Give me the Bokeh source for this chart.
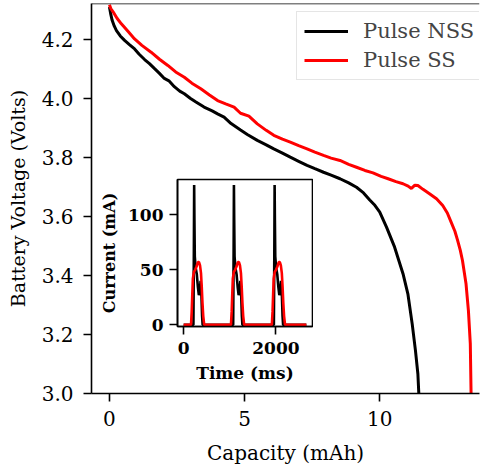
from bokeh.plotting import figure
from bokeh.models import Range1d, FixedTicker, PrintfTickFormatter, Span, Legend, LegendItem
from bokeh.layouts import column
from bokeh.embed import file_html
from bokeh.resources import INLINE

# ---- main data: capacity (mAh) vs battery voltage (V) ----
nss_cap = [0.00, 0.05, 0.10, 0.18, 0.26, 0.40, 0.56, 0.75, 0.93, 1.10, 1.30, 1.48, 1.67, 1.85,
           2.03, 2.20, 2.40, 2.60, 2.77, 3.00, 3.20, 3.50, 3.80, 4.00, 4.24, 4.50, 4.85, 5.10,
           5.47, 5.80, 6.08, 6.40, 6.69, 7.00, 7.31, 7.60, 7.92, 8.20, 8.53, 8.85, 9.14, 9.40,
           9.63, 9.80, 10.00, 10.25, 10.55, 10.86, 11.04, 11.20, 11.32, 11.41, 11.45]
nss_volt = [4.310, 4.285, 4.265, 4.245, 4.230, 4.212, 4.197, 4.182, 4.168, 4.150, 4.132, 4.118,
            4.101, 4.085, 4.068, 4.060, 4.040, 4.025, 4.016, 4.000, 3.988, 3.971, 3.958, 3.948,
            3.937, 3.915, 3.893, 3.878, 3.858, 3.843, 3.829, 3.815, 3.801, 3.787, 3.773, 3.762,
            3.750, 3.740, 3.728, 3.714, 3.699, 3.680, 3.656, 3.640, 3.615, 3.564, 3.496, 3.406,
            3.338, 3.236, 3.146, 3.067, 2.990]

ss_cap = [0.00, 0.05, 0.14, 0.28, 0.44, 0.70, 0.93, 1.20, 1.54, 1.85, 2.16, 2.45, 2.77, 3.05,
          3.38, 3.70, 4.00, 4.30, 4.61, 4.85, 5.16, 5.47, 5.80, 6.08, 6.40, 6.69, 7.00, 7.31,
          7.60, 7.92, 8.20, 8.53, 8.85, 9.14, 9.45, 9.75, 10.05, 10.31, 10.60, 10.86, 11.05,
          11.17, 11.30, 11.41, 11.60, 11.84, 12.10, 12.33, 12.50, 12.64, 12.78, 12.88, 12.98,
          13.06, 13.19, 13.28, 13.35, 13.38]
ss_volt = [4.318, 4.305, 4.293, 4.272, 4.253, 4.226, 4.202, 4.180, 4.157, 4.133, 4.112, 4.090,
           4.072, 4.052, 4.033, 4.012, 3.993, 3.982, 3.971, 3.950, 3.940, 3.914, 3.892, 3.875,
           3.862, 3.852, 3.840, 3.829, 3.818, 3.807, 3.798, 3.790, 3.777, 3.767, 3.756, 3.748,
           3.736, 3.728, 3.718, 3.711, 3.703, 3.695, 3.706, 3.705, 3.692, 3.677, 3.660, 3.637,
           3.612, 3.581, 3.550, 3.519, 3.485, 3.451, 3.373, 3.281, 3.168, 2.990]

# ---- inset data: time (ms) vs current (mA) ----
nss_time = [0, 212, 222, 228, 234, 242, 260, 285, 310, 330, 350, 368, 385, 400, 412,
            1074, 1084, 1090, 1096, 1104, 1122, 1147, 1172, 1192, 1212, 1230, 1247, 1262, 1274,
            1956, 1966, 1972, 1978, 1986, 2004, 2029, 2054, 2074, 2094, 2112, 2129, 2144, 2156, 2660]
nss_current = [0, 0, 70, 127, 95, 62, 52, 46, 34, 27, 31, 40, 28, 8, 0,
               0, 70, 127, 95, 62, 52, 46, 34, 27, 31, 40, 28, 8, 0,
               0, 70, 127, 95, 62, 52, 46, 34, 27, 31, 40, 28, 8, 0, 0]

ss_time = [0, 160, 175, 188, 200, 222, 250, 280, 310, 333, 355, 376, 392, 408, 425, 446,
           1026, 1041, 1054, 1066, 1088, 1116, 1146, 1176, 1199, 1221, 1242, 1258, 1274, 1291, 1312,
           1912, 1927, 1940, 1952, 1974, 2002, 2032, 2062, 2085, 2107, 2128, 2144, 2160, 2177, 2198, 2660]
ss_current = [0, 0, 12, 28, 42, 48, 50, 53, 57, 57, 54, 47, 35, 20, 8, 0,
              0, 12, 28, 42, 48, 50, 53, 57, 57, 54, 47, 35, 20, 8, 0,
              0, 12, 28, 42, 48, 50, 53, 57, 57, 54, 47, 35, 20, 8, 0, 0]

main_xticks = [0, 5, 10]
main_yticks = [3.0, 3.2, 3.4, 3.6, 3.8, 4.0, 4.2]
inset_xticks = [0, 2000]
inset_yticks = [0, 50, 100]

FONT = "DejaVu Serif"
Y_TOP = 4.322
H = 467

p = figure(width=480, height=H, x_range=Range1d(-0.664, 13.69), y_range=Range1d(3.0, Y_TOP),
           output_backend="svg", toolbar_location=None,
           min_border_left=91, min_border_right=0, min_border_top=3, min_border_bottom=H - 393)
p.outline_line_color = None
p.grid.visible = False
p.background_fill_color = "white"

r_nss = p.line(nss_cap, nss_volt, line_color="black", line_width=3)
r_ss = p.line(ss_cap, ss_volt, line_color="#ff0000", line_width=3)

p.add_layout(Span(location=Y_TOP, dimension="width", line_color="black", line_width=1.6))

for ax in (p.xaxis[0], p.yaxis[0]):
    ax.axis_line_width = 1.6
    ax.axis_line_color = "black"
    ax.major_tick_line_width = 1.6
    ax.major_tick_line_color = "black"
    ax.major_tick_out = 8
    ax.major_tick_in = 0
    ax.minor_tick_line_color = None
    ax.major_label_text_font = FONT
    ax.major_label_text_font_size = "20px"
    ax.major_label_text_color = "black"
    ax.axis_label_text_font = FONT
    ax.axis_label_text_font_style = "normal"
    ax.axis_label_text_color = "black"

p.xaxis.ticker = FixedTicker(ticks=main_xticks)
p.xaxis.formatter = PrintfTickFormatter(format="%d")
p.yaxis.ticker = FixedTicker(ticks=main_yticks)
p.yaxis.formatter = PrintfTickFormatter(format="%.1f")
p.xaxis.axis_label = "Capacity (mAh)"
p.yaxis.axis_label = "Battery Voltage (Volts)"
p.xaxis.axis_label_text_font_size = "20px"
p.yaxis.axis_label_text_font_size = "19px"
p.xaxis.major_label_standoff = 9
p.xaxis.axis_label_standoff = 12
p.yaxis.major_label_standoff = 10
p.yaxis.axis_label_standoff = 10

legend = Legend(items=[LegendItem(label="Pulse NSS", renderers=[r_nss]),
                       LegendItem(label="Pulse SS", renderers=[r_ss])],
                location=(205, 313), padding=7, spacing=5,
                glyph_width=44, label_standoff=15,
                label_text_font=FONT, label_text_font_size="21px",
                border_line_color="#cccccc", border_line_width=1.2,
                background_fill_alpha=0.85)
p.add_layout(legend)

# ---- inset ----
q = figure(width=227, height=210, x_range=Range1d(-133, 2793), y_range=Range1d(-1.5, 132),
           output_backend="svg", toolbar_location=None,
           min_border_left=90, min_border_right=1, min_border_top=1, min_border_bottom=62,
           margin=(178 - H, 0, 0, 86))
q.grid.visible = False
q.outline_line_color = "black"
q.outline_line_width = 1.6
q.border_fill_alpha = 0
q.line(nss_time, nss_current, line_color="black", line_width=2.6)
q.line(ss_time, ss_current, line_color="#ff0000", line_width=2.6)
for ax in (q.xaxis[0], q.yaxis[0]):
    ax.axis_line_width = 1.6
    ax.axis_line_color = "black"
    ax.major_tick_line_width = 1.6
    ax.major_tick_line_color = "black"
    ax.major_tick_out = 8
    ax.major_tick_in = 0
    ax.minor_tick_line_color = None
    ax.major_label_text_font = FONT
    ax.major_label_text_font_size = "17px"
    ax.major_label_text_font_style = "bold"
    ax.major_label_text_color = "black"
    ax.axis_label_text_font = FONT
    ax.axis_label_text_font_style = "bold"
    ax.axis_label_text_color = "black"
q.xaxis.ticker = FixedTicker(ticks=inset_xticks)
q.yaxis.ticker = FixedTicker(ticks=inset_yticks)
q.xaxis.formatter = PrintfTickFormatter(format="%d")
q.yaxis.formatter = PrintfTickFormatter(format="%d")
q.xaxis.axis_label = "Time (ms)"
q.yaxis.axis_label = "Current (mA)"
q.xaxis.axis_label_text_font_size = "17px"
q.yaxis.axis_label_text_font_size = "16px"
q.xaxis.major_label_standoff = 7
q.xaxis.axis_label_standoff = 6
q.yaxis.major_label_standoff = 6
q.yaxis.axis_label_standoff = 6

layout = column(p, q)
open("out.html", "w").write(file_html(layout, INLINE))
